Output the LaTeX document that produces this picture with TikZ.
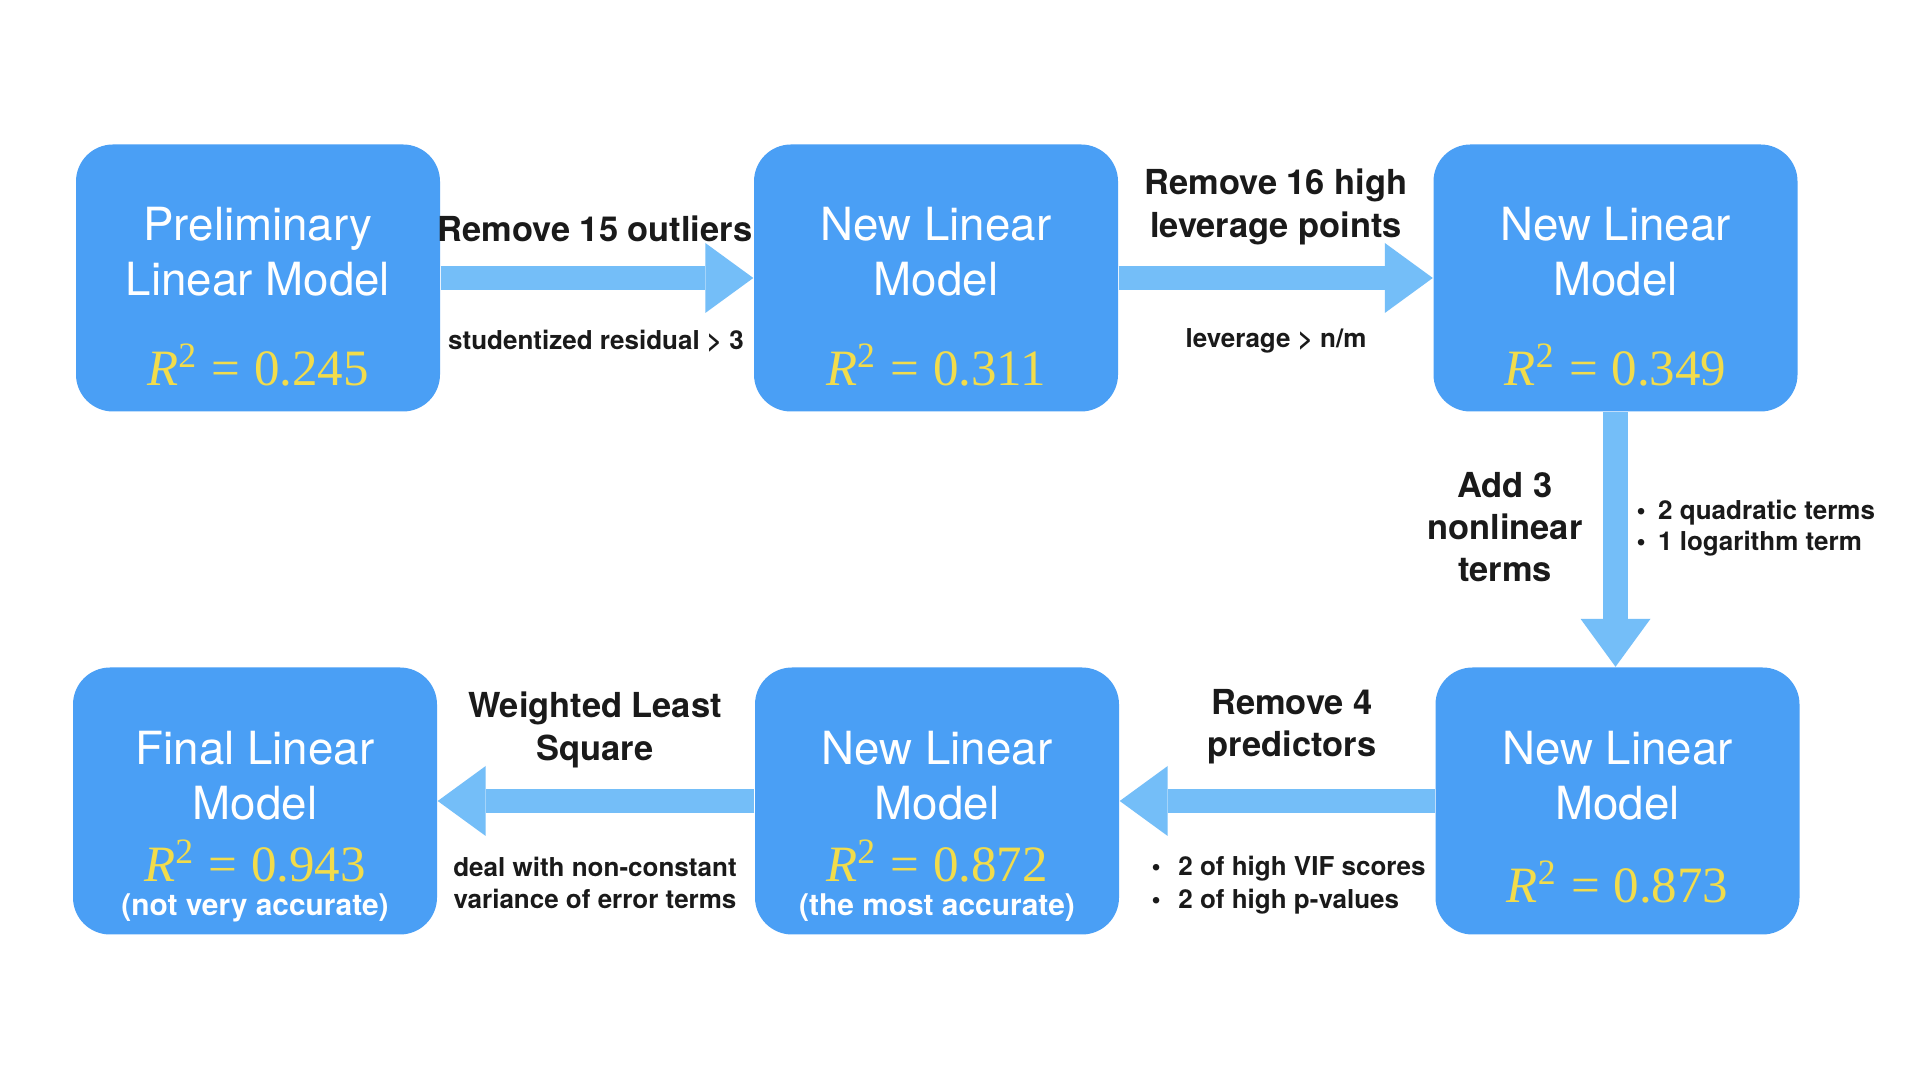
\documentclass[tikz,border=0pt]{standalone}
\usepackage{fontspec}
\setsansfont{TeX Gyre Heros}
\newfontfamily\rfont{Liberation Serif}
\usetikzlibrary{arrows.meta}

\definecolor{boxblue}{HTML}{4A9FF5}
\definecolor{arrowblue}{HTML}{74BEF8}
\definecolor{rsqyellow}{HTML}{F2DC4B}
\definecolor{labelblack}{HTML}{1A1A1A}

\newcommand{\rsq}[1]{{\rfont\textit{R}\textsuperscript{2}\hspace{0.3pt} = \hspace{0.3pt}#1}}

\begin{document}
\begin{tikzpicture}[
  box/.style={rectangle, rounded corners=0.37cm, fill=boxblue, minimum width=3.64cm, minimum height=2.67cm, inner sep=0pt},
  title/.style={text=white, align=center, inner sep=0pt, font=\sffamily\fontsize{13}{15.6}\selectfont},
  rvalue/.style={text=rsqyellow, inner sep=0pt, font=\fontsize{14.5}{17}\selectfont},
  note/.style={text=white, inner sep=0pt, font=\sffamily\bfseries\fontsize{8.5}{10}\selectfont},
  biglabel/.style={text=labelblack, align=center, inner sep=0pt, font=\sffamily\bfseries\fontsize{9.8}{12}\selectfont},
  smalllabel/.style={text=labelblack, align=center, inner sep=0pt, font=\sffamily\bfseries\fontsize{7.4}{9.1}\selectfont},
  fatarrow/.style={arrowblue, line width=0.245cm, -{Triangle[length=0.48cm, width=0.7cm, line width=0pt]}}
]
  \fill[white] (0,0) rectangle (19.2,10.8);
  \useasboundingbox (0,0) rectangle (19.2,10.8);

  % model boxes
  \foreach \n/\x/\y in {b1/2.58/8.02, b2/9.36/8.02, b3/16.155/8.02, b4/2.55/2.79, b5/9.37/2.79, b6/16.175/2.79}{
    \node[box] (\n) at (\x,\y) {};
  }

  \node[title] (t1) at (2.58,8.285) {Preliminary\\Linear Model};
  \node[rvalue] (r1) at (2.58,7.15) {\rsq{0.245}};
  \node[title] (t2) at (9.36,8.285) {New Linear\\Model};
  \node[rvalue] (r2) at (9.36,7.15) {\rsq{0.311}};
  \node[title] (t3) at (16.155,8.285) {New Linear\\Model};
  \node[rvalue] (r3) at (16.155,7.15) {\rsq{0.349}};

  \node[title] (t4) at (2.55,3.045) {Final Linear\\Model};
  \node[rvalue] (r4) at (2.55,2.19) {\rsq{0.943}};
  \node[note] (n4) at (2.55,1.72) {(not very accurate)};
  \node[title] (t5) at (9.37,3.045) {New Linear\\Model};
  \node[rvalue] (r5) at (9.37,2.19) {\rsq{0.872}};
  \node[note] (n5) at (9.37,1.72) {(the most accurate)};
  \node[title] (t6) at (16.175,3.045) {New Linear\\Model};
  \node[rvalue] (r6) at (16.175,1.98) {\rsq{0.873}};

  % arrows between the models
  \draw[fatarrow] (b1.east) -- (b2.west);
  \draw[fatarrow] (b2.east) -- (b3.west);
  \draw[fatarrow] (b3.south) -- (b3.south |- b6.north);
  \draw[fatarrow] (b6.west) -- (b5.east);
  \draw[fatarrow] (b5.west) -- (b4.east);

  % what each step does
  \node[biglabel] (l1) at (5.95,8.51) {Remove 15 outliers};
  \node[smalllabel] (s1) at (5.96,7.39) {studentized residual > 3};
  \node[biglabel] (l2) at (12.76,8.73) {Remove 16 high\\leverage points};
  \node[smalllabel] (s2) at (12.76,7.39) {leverage > n/m};
  \node[biglabel] (l3) at (15.05,5.53) {Add 3\\nonlinear\\terms};
  \node[smalllabel, align=left, anchor=west, font=\sffamily\bfseries\fontsize{7.4}{8.8}\selectfont] (s3) at (16.36,5.52)
    {\textbullet\hspace{3.5pt}2 quadratic terms\\\textbullet\hspace{3.5pt}1 logarithm term};
  \node[biglabel] (l4) at (5.95,3.50) {Weighted Least\\Square};
  \node[smalllabel] (s4) at (5.95,1.97) {deal with non-constant\\variance of error terms};
  \node[biglabel] (l5) at (12.92,3.53) {Remove 4\\predictors};
  \node[smalllabel, align=left, anchor=west, font=\sffamily\bfseries\fontsize{7.4}{9.4}\selectfont] (s5) at (11.51,1.95)
    {\textbullet\hspace{5pt}2 of high VIF scores\\\textbullet\hspace{5pt}2 of high p-values};
\end{tikzpicture}
\end{document}
